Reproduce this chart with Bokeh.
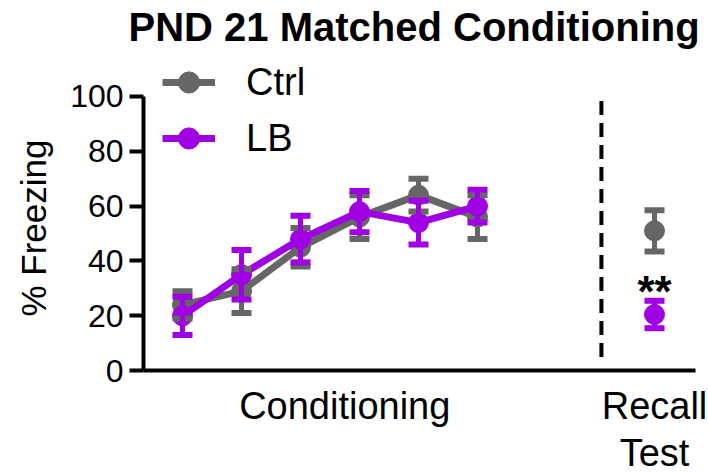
import math
from bokeh.plotting import figure
from bokeh.models import (Range1d, Whisker, TeeHead, ColumnDataSource, Legend,
                          LegendItem, FixedTicker, Label)
from bokeh.embed import file_html
from bokeh.resources import INLINE
from bokeh.core.properties import value

# ---- data ----
cond_trials = [1, 2, 3, 4, 5, 6]
recall_trial = [9]
ctrl_cond = [24, 29, 45, 56, 64, 56]
ctrl_cond_sem = [5, 8, 7, 8, 6, 8]
lb_cond = [20, 35, 48, 58, 54, 60]
lb_cond_sem = [7, 9, 8.5, 7.5, 8, 6]
ctrl_recall = [51]
ctrl_recall_sem = [7.5]
lb_recall = [20.5]
lb_recall_sem = [5]
y_ticks = [0, 20, 40, 60, 80, 100]
group_ticks = [3.75, 9]
group_labels = ["Conditioning", "Recall\nTest"]
divider_x = 8.1
divider_y = [5, 100]
sig_text = ["**"]
sig_y = [29]
x_axis_span = (0.34, 9.69)
y_axis_span = (0, 100)

GRAY = "#666666"
PURPLE = "#A000E4"
FONT = "Liberation Sans"

p = figure(width=708, height=474, output_backend="svg", toolbar_location=None,
           x_range=Range1d(-2.085, 9.915), y_range=Range1d(-37.82, 116.36),
           min_border_left=0, min_border_right=0, min_border_top=50,
           min_border_bottom=0)
p.outline_line_color = None
p.grid.visible = False

p.title.text = "PND 21 Matched Conditioning"
p.title.align = "left"
p.title.offset = 128
p.title.text_font = FONT
p.title.text_font_size = "40px"
p.title.text_font_style = "bold"
p.title.text_color = "black"
p.title.standoff = 5

# y axis (drawn at the left end of the x span)
p.yaxis.fixed_location = x_axis_span[0]
p.yaxis.ticker = FixedTicker(ticks=y_ticks)
p.yaxis.bounds = y_axis_span
p.yaxis.major_label_text_font = FONT
p.yaxis.major_label_text_font_size = "32px"
p.yaxis.major_label_text_color = "black"
p.yaxis.major_label_standoff = 6
p.yaxis.axis_line_width = 4
p.yaxis.major_tick_line_width = 4
p.yaxis.major_tick_in = 0
p.yaxis.major_tick_out = 14
p.yaxis.minor_tick_line_color = None

p.add_layout(Label(x=33, y=52, x_units="screen", y_units="data",
                   text="% Freezing", angle=math.pi / 2, text_align="center",
                   text_baseline="alphabetic", text_font=FONT,
                   text_font_size="35px", text_color="black"))

# x axis (drawn at y = 0)
p.xaxis.fixed_location = y_axis_span[0]
p.xaxis.bounds = x_axis_span
p.xaxis.ticker = FixedTicker(ticks=group_ticks)
p.xaxis.major_label_overrides = {t: l for t, l in zip(group_ticks, group_labels)}
p.xaxis.major_label_text_font = FONT
p.xaxis.major_label_text_font_size = "38px"
p.xaxis.major_label_text_color = "black"
p.xaxis.major_label_text_line_height = 1.13
p.xaxis.major_label_standoff = 8
p.xaxis.axis_line_width = 4
p.xaxis.major_tick_line_color = None
p.xaxis.minor_tick_line_color = None

# divider
p.line(x=[divider_x, divider_x], y=divider_y, line_color="black", line_width=4,
       line_dash="14 8")


def series(xs, ys, sems, color, draw_line):
    src = ColumnDataSource(dict(x=xs, y=ys,
                                upper=[a + b for a, b in zip(ys, sems)],
                                lower=[a - b for a, b in zip(ys, sems)]))
    line_r = None
    if draw_line:
        line_r = p.line("x", "y", source=src, line_color=color, line_width=7)
    w = Whisker(base="x", upper="upper", lower="lower", source=src,
                line_color=color, line_width=5, level="glyph",
                upper_head=TeeHead(size=20, line_color=color, line_width=6),
                lower_head=TeeHead(size=20, line_color=color, line_width=6))
    p.add_layout(w)
    pts = p.scatter("x", "y", source=src, size=20, fill_color=color,
                    line_color=color, marker="circle")
    return line_r, pts


c_line, c_pts = series(cond_trials, ctrl_cond, ctrl_cond_sem, GRAY, True)
series(recall_trial, ctrl_recall, ctrl_recall_sem, GRAY, False)
l_line, l_pts = series(cond_trials, lb_cond, lb_cond_sem, PURPLE, True)
series(recall_trial, lb_recall, lb_recall_sem, PURPLE, False)

p.text(x=recall_trial, y=sig_y, text=sig_text, text_font=value(FONT),
       text_font_size="44px", text_font_style="bold", text_align="center",
       text_baseline="middle", text_color="black")

legend = Legend(items=[LegendItem(label="Ctrl", renderers=[c_line, c_pts]),
                       LegendItem(label="LB", renderers=[l_line, l_pts])],
                location=(162, 308), orientation="vertical", padding=0, margin=0,
                spacing=0, glyph_width=53, glyph_height=56, label_height=56,
                label_standoff=31, label_text_font=FONT,
                label_text_font_size="38px", label_text_color="black",
                border_line_color=None, background_fill_alpha=0)
p.add_layout(legend)

open("out.html", "w").write(file_html(p, INLINE))
